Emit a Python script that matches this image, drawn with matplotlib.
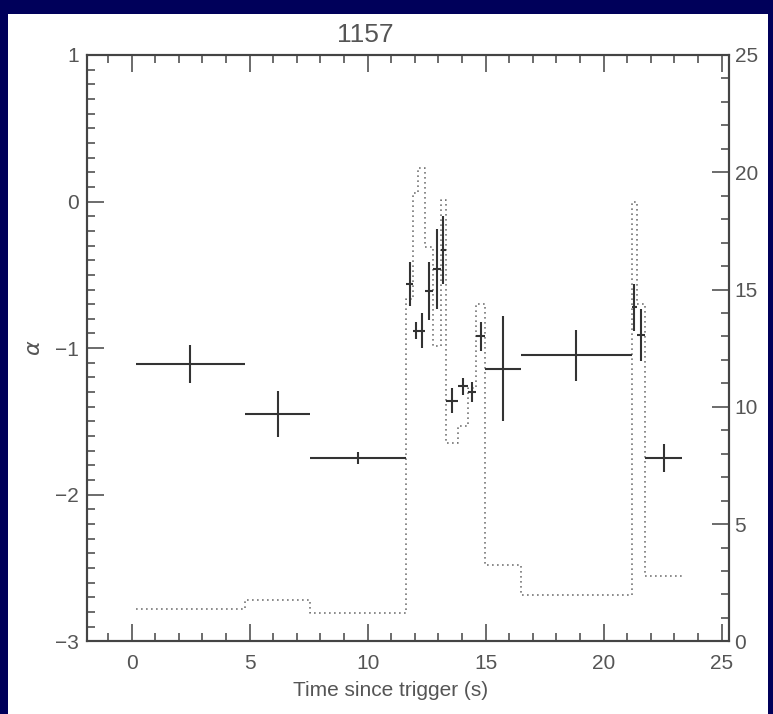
import numpy as np
import matplotlib.pyplot as plt
from matplotlib.patches import Rectangle
from matplotlib.ticker import MultipleLocator

plt.rcParams['font.family'] = ['Liberation Sans', 'DejaVu Sans']

# time bin edges (s)
edges = [0.17, 4.80, 7.57, 11.64, 11.93, 12.15, 12.45, 12.75, 13.10, 13.32,
         13.84, 14.26, 14.60, 14.97, 16.48, 21.19, 21.40, 21.75, 23.33]
# spectral index per bin and its error
alpha = [-1.11, -1.45, -1.75, -0.56, -0.88, -0.88, -0.61, -0.46, -0.33, -1.36,
         -1.26, -1.30, -0.92, -1.14, -1.05, -0.72, -0.91, -1.75]
alpha_err = [0.13, 0.155, 0.04, 0.15, 0.06, 0.12, 0.20, 0.27, 0.23, 0.085,
             0.057, 0.07, 0.10, 0.36, 0.175, 0.16, 0.175, 0.095]
# count rate per bin (right axis)
rate = [1.36, 1.76, 1.19, 14.6, 19.1, 20.2, 16.8, 12.6, 18.8, 8.44,
        9.19, 10.8, 14.4, 3.25, 1.97, 18.75, 14.4, 2.78]

edges = np.array(edges)
t_mid = 0.5 * (edges[:-1] + edges[1:])
t_err = 0.5 * (edges[1:] - edges[:-1])

fig = plt.figure(figsize=(7.73, 7.14), dpi=100)
fig.patch.set_facecolor('#00005a')
fig.patches.append(Rectangle((8 / 773, 0), 760 / 773, 700 / 714, transform=fig.transFigure,
                             facecolor='white', edgecolor='none', zorder=0))

tc = '#555555'
ax = fig.add_axes([0.1129, 0.1018, 0.8302, 0.8212])
ax.set_zorder(2)
ax.patch.set_visible(False)
ax2 = ax.twinx()
ax2.set_zorder(1)

ax.errorbar(t_mid, alpha, xerr=t_err, yerr=alpha_err, fmt='none',
            ecolor='#333333', elinewidth=1.5, capsize=0)

ax2.step(edges, rate + [rate[-1]], where='post', color='#777777',
         lw=1.2, ls=(0, (1, 2)))

ax.set_xlim(-1.88, 25.31)
ax.set_ylim(-3, 1)
ax2.set_ylim(0, 25)

ax.xaxis.set_major_locator(MultipleLocator(5))
ax.xaxis.set_minor_locator(MultipleLocator(1))
ax.yaxis.set_major_locator(MultipleLocator(1))
ax.yaxis.set_minor_locator(MultipleLocator(0.1))
ax2.yaxis.set_major_locator(MultipleLocator(5))
ax2.yaxis.set_minor_locator(MultipleLocator(1))

ax.tick_params(which='both', direction='in', top=True, right=False, colors='#444444',
               labelcolor=tc, labelsize=15, width=1.1)
ax.tick_params(which='major', length=12, pad=6)
ax.tick_params(axis='x', which='major', pad=9)
ax.tick_params(which='minor', length=6)
ax2.tick_params(which='both', direction='in', colors='#444444', labelcolor=tc,
                labelsize=15, width=1.1)
ax2.tick_params(which='major', length=12, pad=4)
ax2.tick_params(which='minor', length=6)

for a in (ax, ax2):
    for s in a.spines.values():
        s.set_color('#444444')
        s.set_linewidth(1.5)

fig.text(391 / 773, 1 - 690 / 714, 'Time since trigger (s)', color=tc, fontsize=15,
         ha='center', va='center')
fig.text(35 / 773, 1 - 348 / 714, r'$\alpha$', color=tc, fontsize=16,
         ha='center', va='center', rotation=90)
fig.text(365 / 773, 1 - 35 / 714, '1157', color=tc, fontsize=19,
         ha='center', va='center')

fig.savefig('out.png', dpi=100, facecolor=fig.get_facecolor())
